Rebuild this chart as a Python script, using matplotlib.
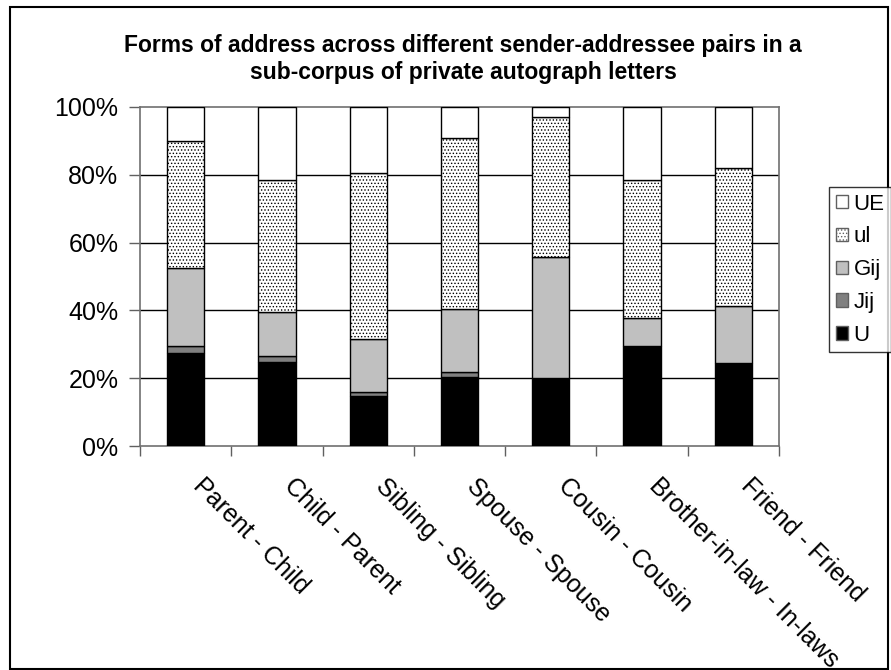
import matplotlib
matplotlib.use("Agg")
import matplotlib.pyplot as plt
from matplotlib.patches import Patch, Rectangle
import numpy as np

plt.rcParams['font.family'] = ['Liberation Sans', 'DejaVu Sans']
plt.rcParams['hatch.color'] = '#808080'
plt.rcParams['hatch.linewidth'] = 0.6

categories = ["Parent - Child", "Child - Parent", "Sibling - Sibling", "Spouse - Spouse",
              "Cousin - Cousin", "Brother-in-law - In-laws", "Friend - Friend"]
U   = [27.3, 24.9, 14.7, 20.4, 20.1, 29.5, 24.6]
Jij = [2.2, 1.6, 1.2, 1.5, 0.0, 0.0, 0.0]
Gij = [23.1, 13.1, 15.8, 18.5, 35.7, 8.3, 16.7]
ul  = [37.4, 38.8, 48.7, 50.6, 41.2, 40.6, 40.6]
UE  = [10.0, 21.6, 19.6, 9.0, 3.0, 21.6, 18.1]
y_ticks = [0, 20, 40, 60, 80, 100]
y_tick_labels = ["0%", "20%", "40%", "60%", "80%", "100%"]
title = "Forms of address across different sender-addressee pairs in a\nsub-corpus of private autograph letters"

series = [("U", U, dict(facecolor="black")),
          ("Jij", Jij, dict(facecolor="#808080")),
          ("Gij", Gij, dict(facecolor="#C0C0C0")),
          ("ul", ul, dict(facecolor="white", hatch=".....")),
          ("UE", UE, dict(facecolor="white"))]

fig = plt.figure(figsize=(8.91, 6.70), dpi=100)
ax = fig.add_axes([140/891, 1-446/670, (779-140)/891, (446-107)/670])

x = np.arange(len(categories))
bottom = np.zeros(len(categories))
handles = {}
for name, vals, style in series:
    vals = np.array(vals)
    mask = vals > 0
    ax.bar(x[mask], vals[mask], width=0.41, bottom=bottom[mask],
           edgecolor="black", linewidth=1.0, zorder=3, **style)
    bottom += vals
    handles[name] = Patch(edgecolor="#606060", linewidth=1.0, **style)

ax.set_xlim(-0.5, len(categories) - 0.5)
ax.set_ylim(0, 100)
ax.set_yticks(y_ticks)
ax.set_yticklabels(y_tick_labels, fontsize=18)
for yv in y_ticks[1:-1]:
    ax.axhline(yv, color="black", linewidth=1.0, zorder=1)

ax.set_xticks(np.arange(len(categories) + 1) - 0.5)
ax.set_xticklabels([])
ax.tick_params(axis="x", direction="out", length=7, width=1, color="#606060")
ax.tick_params(axis="y", direction="out", length=8, width=1, color="#606060", pad=7.5)
for side in ["left", "bottom", "top", "right"]:
    ax.spines[side].set_color("#707070")
    ax.spines[side].set_linewidth(1.2)

for i, label in enumerate(categories):
    ax.annotate(label, xy=(i, 0), xycoords=("data", "axes fraction"),
                xytext=(8, -26), textcoords="offset points",
                rotation=-45, rotation_mode="anchor", ha="left", va="center",
                fontsize=18)

fig.text(463/891, 1-59/670, title, ha="center", va="center",
         fontsize=16.5, fontweight="bold", linespacing=1.2)

order = ["UE", "ul", "Gij", "Jij", "U"]
leg = fig.legend([handles[n] for n in order], order, loc="upper left",
                 bbox_to_anchor=(829/891, 1-187/670), fontsize=16,
                 frameon=True, fancybox=False, handlelength=0.55, handleheight=0.55,
                 handletextpad=0.25, labelspacing=0.53, borderpad=0.3, borderaxespad=0)
leg.get_frame().set_edgecolor("black")
leg.get_frame().set_linewidth(1.0)

fig.patches.append(Rectangle((10/891, 1/670), 878/891, 662/670, transform=fig.transFigure,
                             fill=False, edgecolor="black", linewidth=1.5))

fig.savefig("out.png", dpi=100)
